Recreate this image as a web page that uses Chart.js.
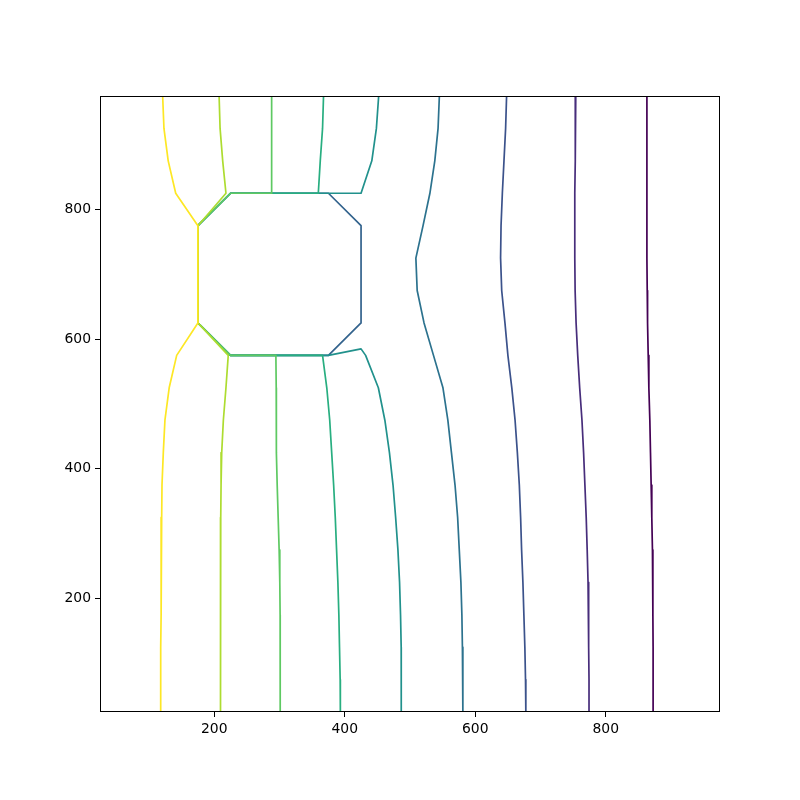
<!DOCTYPE html>
<html>
<head>
<meta charset="utf-8">
<script src="https://cdn.jsdelivr.net/npm/chart.js@4.4.1/dist/chart.umd.min.js"></script>
<style>
    body { margin: 0; background: #fff; }
    canvas { display: block; }
</style>
</head>
<body>
<canvas id="contour-chart" width="800" height="800"></canvas>
<script>
// Axis ticks
const tickValues = [200, 400, 600, 800];

// Grid rows the contour lines step through (top to bottom)
const rowY = [975, 925, 875, 825, 775, 725, 675, 625, 575, 525, 475, 425, 375, 325, 275, 225, 175, 125, 75, 25];

// Contour lines, highest level first (viridis colours)
const yellowX = [121, 123, 129.5, 141, 175, 175, 142.5, 131, 124.5, 122, 120, 119.5, 119, 118.5, 118.5, 118, 118, 118];
const yellowY = [975, 925, 875, 825, 775, 625, 575, 525, 475, 425, 375, 325, 275, 225, 175, 125, 75, 25];

const yellowGreenX = [207.5, 209, 213, 218, 175, 175, 221.5, 218, 214, 211.5, 210.5, 210, 209.5, 209.5, 209.5, 209.8, 209.8, 209.8];
const yellowGreenY = [975, 925, 875, 825, 775, 625, 575, 525, 475, 425, 375, 325, 275, 225, 175, 125, 75, 25];

const lightGreenX = [288, 288, 288, 288, 225, 175, 175, 225, 294.5, 295, 295, 295.5, 296.5, 298, 299.5, 300.5, 301, 301, 301.2, 301.2];
const lightGreenY = [975, 925, 875, 825, 825, 775, 625, 575, 575, 525, 475, 425, 375, 325, 275, 225, 175, 125, 75, 25];

const greenX = [367.5, 366, 362.5, 359.5, 225, 175, 175, 225, 366, 372.5, 377, 380, 383, 385.5, 387.5, 389.5, 391, 392, 393, 393.3];
const greenY = [975, 925, 875, 825, 825, 775, 625, 575, 575, 525, 475, 425, 375, 325, 275, 225, 175, 125, 75, 25];

const tealX = [452, 448.5, 441.5, 425, 375, 225, 175, 175, 225, 375, 425, 432, 451.5, 461.5, 468.5, 474, 478, 481.5, 484, 485.5, 486.5, 486.6, 486.6];
const tealY = [975, 925, 875, 825, 825, 825, 775, 625, 575, 575, 585, 575, 525, 475, 425, 375, 325, 275, 225, 175, 125, 75, 25];

const blueTealX = [545, 543, 538, 530.5, 520, 509, 511, 521.5, 536, 550.5, 558, 563.5, 569, 573, 575.5, 578, 579.5, 580.3, 581, 581];

// Contour traced round the obstacle (octagon)
const obstacleX = [175, 225, 375, 425, 425, 375, 225, 175, 175];
const obstacleY = [775, 825, 825, 775, 625, 575, 575, 625, 775];

const blueX = [648, 646.5, 644, 641.5, 639.5, 638.8, 640.5, 645.5, 650, 656, 661, 664.5, 667.5, 669.5, 671, 673, 674.5, 676, 677, 677.5];
const purpleX = [754, 753.5, 753, 752.5, 752.5, 752.5, 753, 754.5, 757, 760, 763.5, 766, 768, 770, 771.5, 772.8, 773.5, 774, 774.3, 774.3];
const darkX = [863, 863, 863, 863, 863, 863, 863.5, 864, 865, 866, 867.5, 868.5, 869.5, 870.5, 871.5, 872, 872.3, 872.5, 872.5, 872.5];

const lineColors = ['#fde725', '#addc30', '#5ec962', '#28ae80', '#21918c', '#2c728e', '#33638d', '#3b528b', '#472d7b', '#440154'];

function toPoints(xs, ys) {
    return xs.map((x, i) => ({ x: x, y: ys[i] }));
}

const contourLines = [
    toPoints(yellowX, yellowY),
    toPoints(yellowGreenX, yellowGreenY),
    toPoints(lightGreenX, lightGreenY),
    toPoints(greenX, greenY),
    toPoints(tealX, tealY),
    toPoints(blueTealX, rowY),
    toPoints(obstacleX, obstacleY),
    toPoints(blueX, rowY),
    toPoints(purpleX, rowY),
    toPoints(darkX, rowY)
];

// Axes frame (all four spines)
const framePlugin = {
    id: 'frame',
    afterDraw(chart) {
        const { ctx, chartArea } = chart;
        ctx.save();
        ctx.strokeStyle = '#000';
        ctx.lineWidth = 1;
        ctx.strokeRect(chartArea.left + 0.5, chartArea.top + 0.5,
            chartArea.right - chartArea.left - 1, chartArea.bottom - chartArea.top - 1);
        ctx.restore();
    }
};

function axisOptions(position) {
    return {
        type: 'linear',
        position: position,
        min: 25,
        max: 975,
        afterBuildTicks: axis => {
            axis.ticks = tickValues.map(v => ({ value: v }));
        },
        afterFit: axis => {
            if (position === 'left') axis.width = 100;
            else axis.height = 88;
        },
        grid: {
            display: true,
            drawOnChartArea: false,
            drawTicks: true,
            tickLength: 5,
            tickColor: '#000',
            tickWidth: 1
        },
        border: { display: false },
        ticks: {
            color: '#000',
            padding: 4,
            font: { family: 'DejaVu Sans', size: 13.9 },
            callback: v => String(v)
        }
    };
}

Chart.defaults.animation = false;

new Chart(document.getElementById('contour-chart').getContext('2d'), {
    type: 'scatter',
    data: {
        datasets: contourLines.map((pts, i) => ({
            data: pts,
            showLine: true,
            borderColor: lineColors[i],
            borderWidth: 1.7,
            borderJoinStyle: 'round',
            borderCapStyle: 'butt',
            pointRadius: 0,
            pointHoverRadius: 0,
            tension: 0,
            fill: false
        }))
    },
    options: {
        responsive: false,
        devicePixelRatio: 1,
        layout: { padding: { left: 0, right: 80, top: 96, bottom: 0 } },
        plugins: {
            legend: { display: false },
            tooltip: { enabled: false }
        },
        scales: {
            x: axisOptions('bottom'),
            y: axisOptions('left')
        }
    },
    plugins: [framePlugin]
});
</script>
</body>
</html>
